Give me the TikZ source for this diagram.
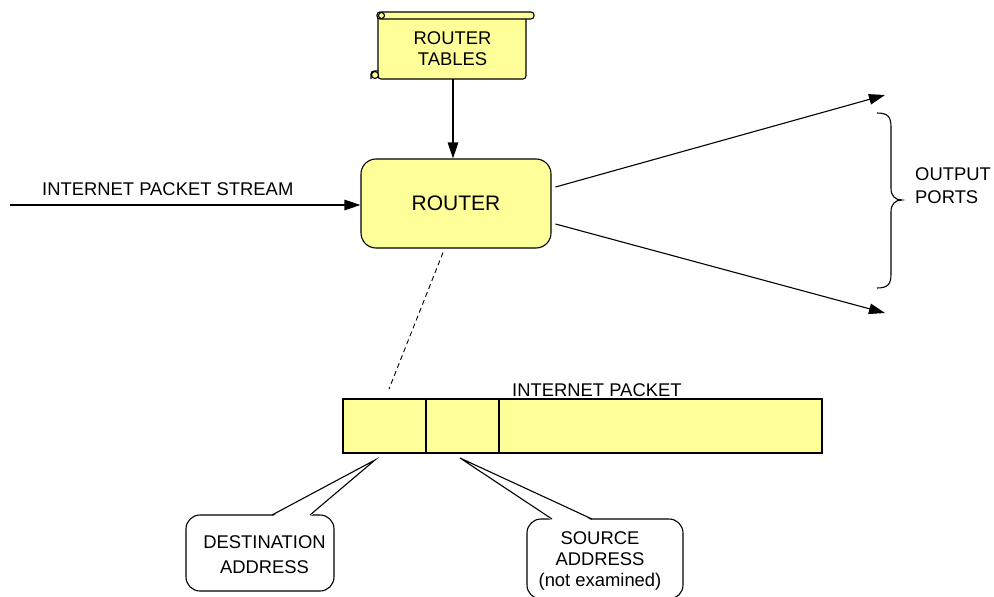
\documentclass[tikz,border=0pt]{standalone}
\usepackage{fontspec}
\setmainfont{Liberation Sans}
\usetikzlibrary{arrows.meta}
\definecolor{paleyellow}{RGB}{255,255,153}
\tikzset{
  lbl/.style={font=\fontsize{18.4}{21}\selectfont, inner sep=0pt},
  wire/.style={line width=1.1pt},
  arr/.style={wire, -{Triangle[length=16pt,width=10.5pt]}},
  cell/.style={draw, line width=1.1pt, fill=paleyellow, minimum height=54pt,
    inner sep=0pt, outer sep=0pt},
  bubble/.style={draw, line width=1.1pt, fill=white, rounded corners=14pt,
    inner sep=0pt, outer sep=0pt},
  scrollpart/.style={draw, line width=1.1pt, fill=paleyellow}
}
\begin{document}
\begin{tikzpicture}[x=1pt,y=-1pt]
  \useasboundingbox[fill=white] (0,0) rectangle (994,597);

  % router tables (scroll)
  \node[minimum width=148pt, minimum height=61pt, inner sep=0pt] (tables) at (453,48.5) {};
  \draw[scrollpart, rounded corners=3pt] (378,17) -- (378,79) -- (526,79) -- (526,17);
  \draw[scrollpart, rounded corners=3pt] (377,12) rectangle (534,19);
  \draw[scrollpart] (381.5,15.5) circle (3);
  \draw[scrollpart, rounded corners=3pt] (371,79) -- (371,71) -- (378,71);
  \draw[scrollpart] (375,75) circle (3.5);
  \node[lbl, align=center] (tablestext) at (452.5,49) {ROUTER\\TABLES};

  % router
  \node[draw, line width=1.1pt, fill=paleyellow, rounded corners=15pt,
        minimum width=190pt, minimum height=89pt, inner sep=0pt,
        font=\fontsize{21}{24}\selectfont] (router) at (456,203.5) {ROUTER};

  \draw[arr] (tables.south) -- (tables.south |- router.north);

  % incoming stream
  \coordinate (src) at (10,205);
  \draw[arr] (src) -- (src -| router.west);
  \node[lbl, anchor=base west] (streamtext) at (42,195) {INTERNET PACKET STREAM};

  % output ports
  \coordinate (o1s) at ([shift={(4,-16.5)}]router.east);
  \coordinate (o2s) at ([shift={(4,20.5)}]router.east);
  \coordinate (o1) at (885,95);
  \coordinate (o2) at (885,313);
  \draw[arr] (o1s) -- (o1);
  \draw[arr] (o2s) -- (o2);
  \draw[wire] (877,113) .. controls (888,113) and (891,117) .. (891,127)
     -- (891,188) .. controls (891,196) and (895,200) .. (902,200)
     .. controls (895,200) and (891,204) .. (891,212)
     -- (891,274) .. controls (891,284) and (888,288) .. (877,288);
  \node[lbl, anchor=base west, align=left,
        font=\fontsize{18.4}{23}\selectfont] (portstext) at (915,203) {OUTPUT\\PORTS};

  % internet packet
  \node[cell, minimum width=83pt] (c1) at (384.5,426) {};
  \node[cell, minimum width=73pt] (c2) at (462.5,426) {};
  \node[cell, minimum width=323pt] (c3) at (660.5,426) {};
  \node[lbl, anchor=base west] (packettext) at (512,396) {INTERNET PACKET};

  % dashed link router -> packet
  \coordinate (ds) at ([shift={(-13,4)}]router.south);
  \coordinate (de) at ([shift={(4.5,-10)}]c1.north);
  \draw[line width=0.9pt, dash pattern=on 5pt off 3.5pt] (ds) -- (de);

  % destination callout
  \node[bubble, minimum width=148pt, minimum height=76pt] (dst) at (260,553) {};
  \coordinate (dtip) at ([shift={(-9.5,7)}]c1.south);
  \coordinate (dl) at ([xshift=12pt]dst.north);
  \coordinate (dr) at ([xshift=50pt]dst.north);
  \fill[white] ([yshift=-1.5pt]dl) -- (dtip) -- ([yshift=-1.5pt]dr) -- cycle;
  \draw[wire, line join=miter] (dl) -- (dtip) -- (dr);
  \node[lbl, align=center, font=\fontsize{18.4}{25}\selectfont] (dsttext) at (264.5,555) {DESTINATION\\ADDRESS};

  % source callout
  \node[bubble, minimum width=156pt, minimum height=80pt] (srcbox) at (605,559) {};
  \coordinate (stip) at ([shift={(-2.5,5)}]c2.south);
  \coordinate (sl) at ([xshift=-53pt]srcbox.north);
  \coordinate (sr) at ([xshift=-13pt]srcbox.north);
  \fill[white] ([yshift=-1.5pt]sl) -- (stip) -- ([yshift=-1.5pt]sr) -- cycle;
  \draw[wire, line join=miter] (sl) -- (stip) -- (sr);
  \node[lbl, align=center] (srctext) at (600,561) {SOURCE\\ADDRESS\\(not examined)};
\end{tikzpicture}
\end{document}
